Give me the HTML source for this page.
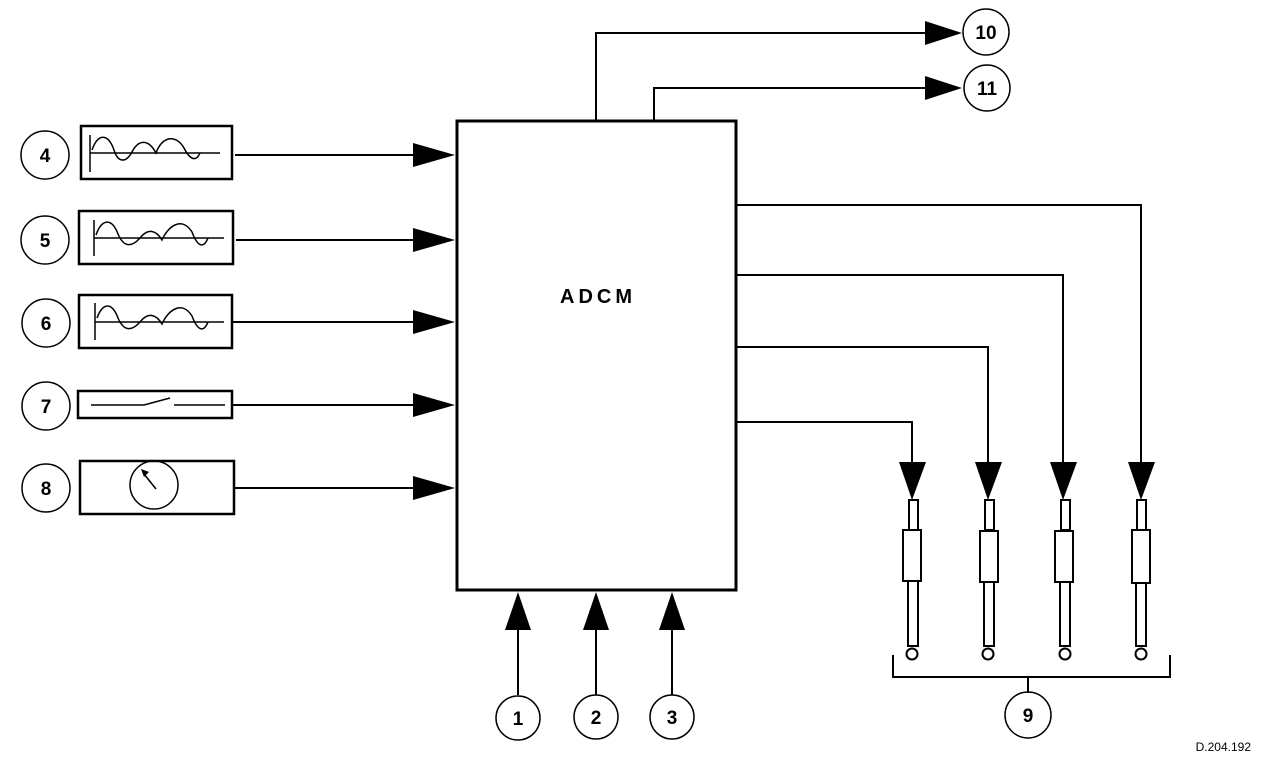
<!DOCTYPE html>
<html><head><style>html,body{margin:0;padding:0;background:#fff}svg{display:block}</style></head>
<body>
<svg width="1280" height="766" viewBox="0 0 1280 766" xmlns="http://www.w3.org/2000/svg" font-family="Liberation Sans, Arial, sans-serif" font-weight="bold">
<g fill="none" stroke="#000" stroke-width="2">
<rect x="457" y="121" width="279" height="469" stroke-width="3"/>
<polyline points="596,121 596,33 930,33"/>
<polyline points="654,121 654,88 930,88"/>
<circle cx="986" cy="32" r="23" stroke-width="1.5"/>
<circle cx="987" cy="88" r="23" stroke-width="1.5"/>
<circle cx="45" cy="155" r="24" stroke-width="1.5"/>
<circle cx="45" cy="240" r="24" stroke-width="1.5"/>
<circle cx="46" cy="323" r="24" stroke-width="1.5"/>
<circle cx="46" cy="406" r="24" stroke-width="1.5"/>
<circle cx="46" cy="488" r="24" stroke-width="1.5"/>
<rect x="81" y="126" width="151" height="53" stroke-width="2.5"/>
<rect x="79" y="211" width="154" height="53" stroke-width="2.5"/>
<rect x="79" y="295" width="153" height="53" stroke-width="2.5"/>
<rect x="78" y="391" width="154" height="27" stroke-width="2.5"/>
<rect x="80" y="461" width="154" height="53" stroke-width="2.5"/>
<g stroke-width="1.5">
<line x1="90" y1="135" x2="90" y2="172"/><line x1="90" y1="153" x2="220" y2="153"/>
<path d="M92,150 C98,133 108,133 114,150 C118,163 126,163 132,152 C138,140 148,138 156,153 C162,136 176,134 184,148 C190,160 196,162 200,153"/>
<line x1="94" y1="220" x2="94" y2="256"/><line x1="94" y1="238" x2="224" y2="238"/>
<path d="M96,235 C102,218 112,218 118,234 C124,248 132,247 140,238 C148,228 156,230 162,240 C168,226 182,216 192,232 C198,248 204,248 208,238"/>
<line x1="95" y1="303" x2="95" y2="340"/><line x1="95" y1="322" x2="224" y2="322"/>
<path d="M97,318 C103,302 112,302 118,318 C124,332 132,331 140,322 C148,312 156,314 162,324 C168,310 182,300 192,316 C198,332 204,332 208,322"/>
<path d="M91,405 L144,405 L170,398 M174,405 L225,405"/>
<circle cx="154" cy="485" r="24"/>
<line x1="156" y1="489" x2="144" y2="474"/>
</g>
<line x1="235" y1="155" x2="415" y2="155"/>
<line x1="236" y1="240" x2="415" y2="240"/>
<line x1="233" y1="322" x2="415" y2="322"/>
<line x1="233" y1="405" x2="415" y2="405"/>
<line x1="235" y1="488" x2="415" y2="488"/>
<polyline points="736,205 1141,205 1141,465"/>
<polyline points="736,275 1063,275 1063,465"/>
<polyline points="736,347 988,347 988,465"/>
<polyline points="736,422 912,422 912,465"/>
<g stroke-width="2">
<rect x="909" y="500" width="9" height="30"/><rect x="903" y="530" width="18" height="51"/><rect x="908" y="581" width="10" height="65"/><circle cx="912" cy="654" r="5.5"/>
<rect x="985" y="500" width="9" height="30"/><rect x="980" y="531" width="18" height="51"/><rect x="984" y="582" width="10" height="64"/><circle cx="988" cy="654" r="5.5"/>
<rect x="1061" y="500" width="9" height="30"/><rect x="1055" y="531" width="18" height="51"/><rect x="1060" y="582" width="10" height="64"/><circle cx="1065" cy="654" r="5.5"/>
<rect x="1137" y="500" width="9" height="30"/><rect x="1132" y="530" width="18" height="53"/><rect x="1136" y="583" width="10" height="63"/><circle cx="1141" cy="654" r="5.5"/>
</g>
<polyline points="893,655 893,677 1170,677 1170,655"/>
<line x1="1028" y1="677" x2="1028" y2="693"/>
<circle cx="1028" cy="715" r="23" stroke-width="1.5"/>
<line x1="518" y1="625" x2="518" y2="695"/>
<line x1="596" y1="625" x2="596" y2="695"/>
<line x1="672" y1="625" x2="672" y2="695"/>
<circle cx="518" cy="718" r="22" stroke-width="1.5"/>
<circle cx="596" cy="717" r="22" stroke-width="1.5"/>
<circle cx="672" cy="717" r="22" stroke-width="1.5"/>
</g>
<g fill="#000">
<polygon points="141,469 149,472 144,477"/>
<polygon points="925,21 962,33 925,45"/>
<polygon points="925,76 962,88 925,100"/>
<polygon points="413,143 455,155 413,167"/>
<polygon points="413,228 455,240 413,252"/>
<polygon points="413,310 455,322 413,334"/>
<polygon points="413,393 455,405 413,417"/>
<polygon points="413,476 455,488 413,500"/>
<polygon points="899,462 926,462 912,500"/>
<polygon points="975,462 1002,462 988,500"/>
<polygon points="1050,462 1077,462 1063,500"/>
<polygon points="1128,462 1155,462 1141,500"/>
<polygon points="505,630 531,630 518,592"/>
<polygon points="583,630 609,630 596,592"/>
<polygon points="659,630 685,630 672,592"/>
</g>
<g font-size="19" text-anchor="middle">
<text x="45" y="162">4</text><text x="45" y="247">5</text><text x="46" y="330">6</text><text x="46" y="413">7</text><text x="46" y="495">8</text>
<text x="518" y="725">1</text><text x="596" y="724">2</text><text x="672" y="724">3</text>
<text x="1028" y="722">9</text><text x="986" y="39">10</text><text x="987" y="95">11</text>
<text x="598" y="303" font-size="20" letter-spacing="4">ADCM</text>
</g>
<text x="1251" y="751" font-size="12" font-weight="normal" text-anchor="end">D.204.192</text>
</svg>
</body></html>
